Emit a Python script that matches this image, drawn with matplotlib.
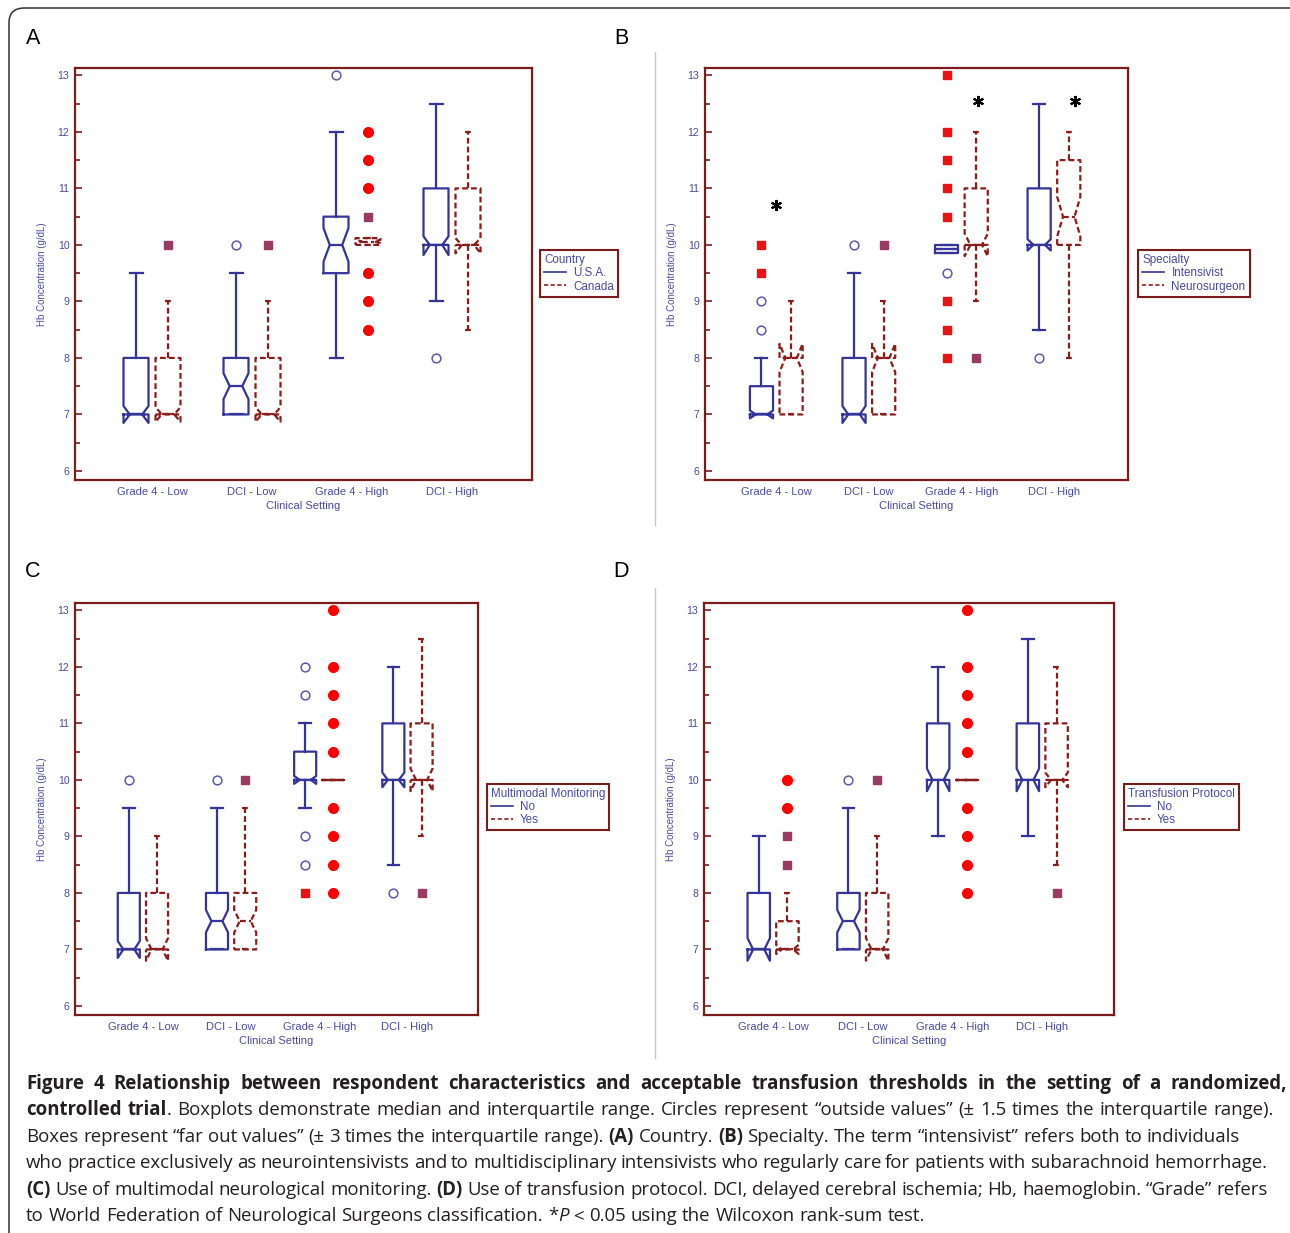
import matplotlib
matplotlib.use("Agg")
import matplotlib.pyplot as plt
from matplotlib.lines import Line2D
from matplotlib.patches import FancyBboxPatch

W, H = 1290, 1233

categories = ["Grade 4 - Low", "DCI - Low", "Grade 4 - High", "DCI - High"]
yticks = [6, 7, 8, 9, 10, 11, 12, 13]

# boxes: whislo, q1, median, q3, whishi ; notch: (lo, hi)
# A - Country
usa_box = [[7, 7, 7, 8, 9.5], [7, 7, 7.5, 8, 9.5], [8, 9.5, 10, 10.5, 12], [9, 10, 10, 11, 12.5]]
usa_notch = [[6.85, 7.15], [7.27, 7.73], [9.7, 10.3], [9.82, 10.15]]
usa_outside = [[], [10], [13], [8]]
usa_farout = [[], [], [], []]
canada_box = [[7, 7, 7, 8, 9], [7, 7, 7, 8, 9], [10, 10, 10.06, 10.12, 10.12], [8.5, 10, 10, 11, 12]]
canada_notch = [[6.87, 7.13], [6.87, 7.13], [10.03, 10.09], [9.85, 10.12]]
canada_outside = [[], [], [12, 11.5, 11, 9.5, 9, 8.5], []]
canada_farout = [[10], [10], [10.5], []]

# B - Specialty
intens_box = [[7, 7, 7, 7.5, 8], [7, 7, 7, 8, 9.5], [9.86, 9.86, 9.93, 10, 10], [8.5, 10, 10, 11, 12.5]]
intens_notch = [[6.93, 7.07], [6.85, 7.15], [9.93, 9.93], [9.9, 10.1]]
intens_outside = [[9, 8.5], [10], [9.5], [8]]
intens_farout = [[10, 9.5], [], [13, 12, 11.5, 11, 10.5, 9, 8.5, 8], []]
neuro_box = [[7, 7, 8, 8, 9], [7, 7, 8, 8, 9], [9, 10, 10, 11, 12], [8, 10, 10.5, 11.5, 12]]
neuro_notch = [[7.75, 8.25], [7.75, 8.25], [9.8, 10.2], [10.15, 10.85]]
neuro_outside = [[], [], [], []]
neuro_farout = [[], [10], [8], []]
star_x = [1.0, 3.18, 4.23]
star_y = [10.7, 12.55, 12.55]

# C - Multimodal Monitoring
mmno_box = [[7, 7, 7, 8, 9.5], [7, 7, 7.5, 8, 9.5], [9.5, 10, 10, 10.5, 11], [8.5, 10, 10, 11, 12]]
mmno_notch = [[6.85, 7.15], [7.3, 7.7], [9.93, 10.07], [9.87, 10.13]]
mmno_outside = [[10], [10], [12, 11.5, 9, 8.5], [8]]
mmno_farout = [[], [], [8], []]
mmyes_box = [[7, 7, 7, 8, 9], [7, 7, 7.5, 8, 9.5], [10, 10, 10, 10, 10], [9, 10, 10, 11, 12.5]]
mmyes_notch = [[6.8, 7.2], [7.3, 7.7], [10, 10], [9.8, 10.2]]
mmyes_outside = [[], [], [13, 12, 11.5, 11, 10.5, 9.5, 9, 8.5, 8], []]
mmyes_farout = [[], [10], [], [8]]

# D - Transfusion Protocol
tpno_box = [[7, 7, 7, 8, 9], [7, 7, 7.5, 8, 9.5], [9, 10, 10, 11, 12], [9, 10, 10, 11, 12.5]]
tpno_notch = [[6.8, 7.2], [7.3, 7.7], [9.8, 10.2], [9.8, 10.2]]
tpno_outside = [[], [10], [], []]
tpno_farout = [[], [], [], []]
tpyes_box = [[7, 7, 7, 7.5, 8], [7, 7, 7, 8, 9], [10, 10, 10, 10, 10], [8.5, 10, 10, 11, 12]]
tpyes_notch = [[6.92, 7.08], [6.8, 7.2], [10, 10], [9.87, 10.13]]
tpyes_outside = [[10, 9.5], [], [13, 12, 11.5, 11, 10.5, 9.5, 9, 8.5, 8], []]
tpyes_farout = [[9, 8.5], [10], [], [8]]

BLUE = "#34349a"
RED = "#8b1c1c"
NAVY_TXT = "#4a4a9e"
SPINE = "#7b1c1c"
DASH = (0, (2.6, 1.4))

plt.rcParams["font.family"] = ["Liberation Sans", "DejaVu Sans"]

fig = plt.figure(figsize=(W / 100, H / 100), dpi=100)


def draw_group(ax, boxes, notches, outside, farout, offset, color, ls, capw, blue_group):
    stats = []
    for b, n in zip(boxes, notches):
        stats.append(dict(whislo=b[0], q1=b[1], med=b[2], q3=b[3], whishi=b[4],
                          cilo=n[0], cihi=n[1], fliers=[]))
    pos = [i + 1 + offset for i in range(len(boxes))]
    lp = dict(color=color, lw=1.6, ls=ls)
    ax.bxp(stats, positions=pos, widths=0.25, capwidths=capw, shownotches=True,
           showfliers=False, boxprops=lp, whiskerprops=lp, capprops=lp,
           medianprops=lp, manage_ticks=False)
    for p, vals in zip(pos, outside):
        if not vals:
            continue
        if blue_group:
            ax.plot([p] * len(vals), vals, ls="none", marker="o", ms=6.3,
                    mfc="white", mec="#5a5aa8", mew=1.1)
        else:
            ax.plot([p] * len(vals), vals, ls="none", marker="o", ms=7,
                    mfc="#ff0000", mec="#ff0000")
    for p, vals in zip(pos, farout):
        if not vals:
            continue
        c = "#ee1111" if blue_group else "#9b3a62"
        ax.plot([p] * len(vals), vals, ls="none", marker="s", ms=6, mfc=c, mec=c)


def panel(rect, blue, red, legend_title, legend_labels, leg_xy):
    ax = fig.add_axes(rect)
    draw_group(ax, *blue, offset=-0.16, color=BLUE, ls="-", capw=0.13, blue_group=True)
    draw_group(ax, *red, offset=0.16, color=RED, ls=DASH, capw=0.07, blue_group=False)
    ax.set_xlim(0.23, 4.8)
    ax.set_ylim(5.84, 13.13)
    ax.set_xticks([1, 2, 3, 4], categories)
    ax.set_yticks(yticks)
    ax.set_yticks([v + 0.5 for v in yticks[:-1]], minor=True)
    ax.tick_params(axis="x", length=0, pad=5, labelsize=8, labelcolor=NAVY_TXT)
    ax.tick_params(axis="y", which="both", direction="in", color=SPINE, width=1.2,
                   labelsize=7.6, labelcolor=NAVY_TXT, pad=4)
    ax.tick_params(axis="y", which="major", length=5)
    ax.tick_params(axis="y", which="minor", length=3.5)
    for s in ax.spines.values():
        s.set_color(SPINE)
        s.set_linewidth(1.6)
    ax.set_xlabel("Clinical Setting", fontsize=8, color=NAVY_TXT, labelpad=3)
    ax.set_ylabel("Hb Concentration (g/dL)", fontsize=7, color=NAVY_TXT, labelpad=8)
    handles = [Line2D([], [], color=BLUE, lw=1.2),
               Line2D([], [], color=RED, lw=1.2, ls=(0, (2.5, 1.5)))]
    leg = ax.legend(handles, legend_labels, title=legend_title, loc="upper left",
                    bbox_to_anchor=leg_xy, borderaxespad=0, fancybox=False,
                    edgecolor=SPINE, fontsize=8.4, title_fontsize=8.4,
                    alignment="left", handlelength=1.9, handletextpad=0.6,
                    labelspacing=0.1, borderpad=0.35, labelcolor=NAVY_TXT,
                    framealpha=1)
    leg.get_frame().set_linewidth(1.5)
    leg.get_title().set_color(NAVY_TXT)
    return ax


panel((75 / W, 1 - 480 / H, 457 / W, 412 / H),
      (usa_box, usa_notch, usa_outside, usa_farout),
      (canada_box, canada_notch, canada_outside, canada_farout),
      "Country", ["U.S.A.", "Canada"], (1.0175, 0.558))
axB = panel((705 / W, 1 - 480 / H, 423 / W, 412 / H),
            (intens_box, intens_notch, intens_outside, intens_farout),
            (neuro_box, neuro_notch, neuro_outside, neuro_farout),
            "Specialty", ["Intensivist", "Neurosurgeon"], (1.024, 0.558))
axB.plot(star_x, star_y, ls="none", marker=(6, 2, 0), ms=8, mew=1.5, color="black")
panel((75 / W, 1 - 1015 / H, 403 / W, 412 / H),
      (mmno_box, mmno_notch, mmno_outside, mmno_farout),
      (mmyes_box, mmyes_notch, mmyes_outside, mmyes_farout),
      "Multimodal Monitoring", ["No", "Yes"], (1.022, 0.561))
panel((704 / W, 1 - 1015 / H, 410 / W, 412 / H),
      (tpno_box, tpno_notch, tpno_outside, tpno_farout),
      (tpyes_box, tpyes_notch, tpyes_outside, tpyes_farout),
      "Transfusion Protocol", ["No", "Yes"], (1.024, 0.561))

# panel letters, dividers, outer frame
for lab, (px, py) in zip("ABCD", [(33, 38), (621, 38), (33, 572), (621, 572)]):
    fig.text(px / W, 1 - py / H, lab, fontsize=15.5, ha="center", va="center")
for y0, y1 in [(52, 525), (588, 1058)]:
    fig.add_artist(Line2D([655 / W, 655 / W], [1 - y0 / H, 1 - y1 / H],
                          color="#c8c8c8", lw=1))
fig.add_artist(FancyBboxPatch((9 / W, -0.05), (1310 - 9) / W, 1 - 8 / H + 0.05,
                              boxstyle="round,pad=0,rounding_size=0.012",
                              transform=fig.transFigure, fc="none", ec="#333333",
                              lw=1.1))

# caption
caption_lines = [
    [("b", "Figure 4 Relationship between respondent characteristics and acceptable transfusion thresholds in the setting of a randomized,")],
    [("b", "controlled trial"), ("n", ". Boxplots demonstrate median and interquartile range. Circles represent \u201coutside values\u201d (\u00b1 1.5 times the interquartile range).")],
    [("n", "Boxes represent \u201cfar out values\u201d (\u00b1 3 times the interquartile range). "), ("b", "(A)"), ("n", " Country. "), ("b", "(B)"), ("n", " Specialty. The term \u201cintensivist\u201d refers both to individuals")],
    [("n", "who practice exclusively as neurointensivists and to multidisciplinary intensivists who regularly care for patients with subarachnoid hemorrhage.")],
    [("b", "(C)"), ("n", " Use of multimodal neurological monitoring. "), ("b", "(D)"), ("n", " Use of transfusion protocol. DCI, delayed cerebral ischemia; Hb, haemoglobin. \u201cGrade\u201d refers")],
    [("n", "to World Federation of Neurological Surgeons classification. *"), ("i", "P"), ("n", " < 0.05 using the Wilcoxon rank-sum test.")],
]
line_right = [1287, 1274, 1240, 1267, 1268, None]
line_y = [1089, 1115, 1142, 1168, 1195, 1221]
CAP_FS = 13.4
CAP_COLOR = "#231f20"
renderer = fig.canvas.get_renderer()


def style_kw(st):
    return dict(fontfamily="Open Sans", fontsize=CAP_FS, color=CAP_COLOR,
                fontweight="bold" if st == "b" else "normal",
                fontstyle="italic" if st == "i" else "normal")


def split_words(segs):
    words = [[]]
    for st, txt in segs:
        parts = txt.split(" ")
        for k, part in enumerate(parts):
            if k > 0:
                words.append([])
            if part:
                words[-1].append((st, part))
    return [w for w in words if w]


def measure(st, txt):
    t = fig.text(0, 0, txt, **style_kw(st))
    w = t.get_window_extent(renderer).width
    t.remove()
    return w


space_w = measure("n", "a a") - measure("n", "aa")
for segs, right, y in zip(caption_lines, line_right, line_y):
    words = split_words(segs)
    widths = [[measure(st, txt) for st, txt in w] for w in words]
    total = sum(sum(ws) for ws in widths)
    if right is None:
        gap = space_w
    else:
        gap = (right - 26 - total) / (len(words) - 1)
    x = 26
    for w, ws in zip(words, widths):
        for (st, txt), pw in zip(w, ws):
            fig.text(x / W, 1 - y / H, txt, ha="left", va="baseline", **style_kw(st))
            x += pw
        x += gap

fig.savefig("out.png", dpi=100)
